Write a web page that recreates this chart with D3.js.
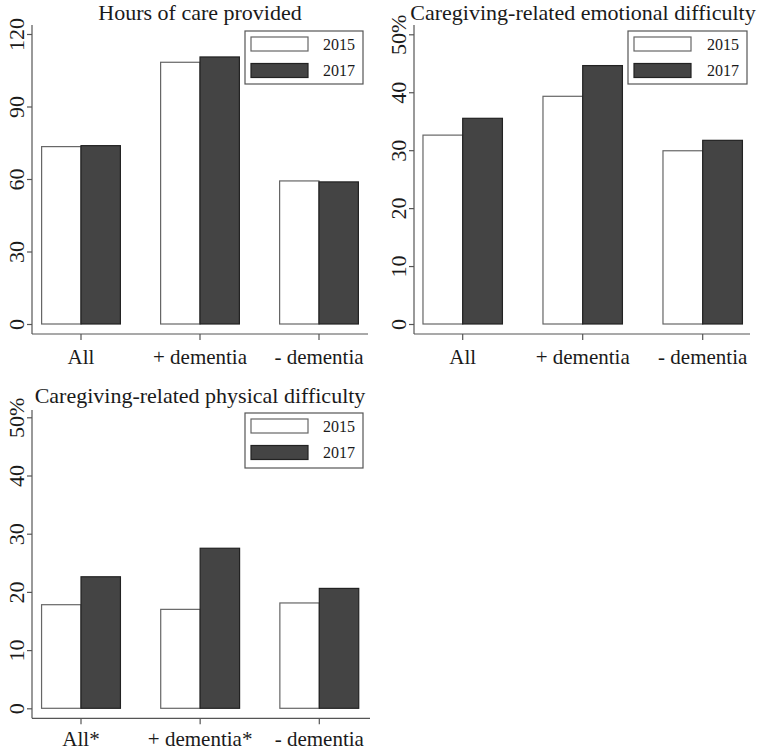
<!DOCTYPE html>
<html>
<head>
<meta charset="utf-8">
<script src="https://cdn.jsdelivr.net/npm/d3@7"></script>
<style>
  html, body { margin: 0; padding: 0; background: #fff; }
  svg text { font-family: "Liberation Serif", "DejaVu Serif", serif !important; fill: #1a1a1a; }
</style>
</head>
<body>
<svg id="chart" width="760" height="751" font-family="Liberation Serif"></svg>
<script>
// ---- data ----
const years = ["2015", "2017"];
const categoriesTop = ["All", "+ dementia", "- dementia"];
const categoriesPhys = ["All*", "+ dementia*", "- dementia"];

const hoursTitle = "Hours of care provided";
const hours2015 = [73.4, 108.3, 59.2];
const hours2017 = [73.8, 110.5, 58.8];
const hoursTicks = [0, 30, 60, 90, 120];
const hoursTickLabels = ["0", "30", "60", "90", "120"];

const emoTitle = "Caregiving-related emotional difficulty";
const emo2015 = [32.6, 39.3, 29.9];
const emo2017 = [35.5, 44.6, 31.7];
const pctTicks = [0, 10, 20, 30, 40, 50];
const pctTickLabels = ["0", "10", "20", "30", "40", "50%"];

const physTitle = "Caregiving-related physical difficulty";
const phys2015 = [17.8, 17.0, 18.1];
const phys2017 = [22.6, 27.5, 20.6];

// ---- layout (pixel frames) ----
const panels = [
  { title: hoursTitle, cats: categoriesTop, s1: hours2015, s2: hours2017, ticks: hoursTicks, labels: hoursTickLabels,
    axisX: 32, xEnd: 368, top: 25, xAxisY: 334, y0: 324, yMax: 34, c0: 81, c2: 319, titleX: 200, titleY: 19.8, xLabY: 364,
    leg: { x: 245, y: 31, w: 118, h: 53 } },
  { title: emoTitle, cats: categoriesTop, s1: emo2015, s2: emo2017, ticks: pctTicks, labels: pctTickLabels,
    axisX: 414, xEnd: 750, top: 25, xAxisY: 334, y0: 324, yMax: 34.3, c0: 462.7, c2: 702.7, titleX: 583, titleY: 19.8, xLabY: 364,
    leg: { x: 628, y: 31, w: 119, h: 53 } },
  { title: physTitle, cats: categoriesPhys, s1: phys2015, s2: phys2017, ticks: pctTicks, labels: pctTickLabels,
    axisX: 32, xEnd: 370, top: 410, xAxisY: 718.3, y0: 708.3, yMax: 417.3, c0: 81, c2: 319.3, titleX: 200, titleY: 402.5, xLabY: 746,
    leg: { x: 245, y: 413, w: 118, h: 55 } }
];

const FONT = '"Liberation Serif", "DejaVu Serif", serif';
const svg = d3.select("#chart");
const axisColor = "#555";
const darkFill = "#444";

panels.forEach(p => {
  const g = svg.append("g");
  const maxTick = p.ticks[p.ticks.length - 1];
  const y = d3.scaleLinear().domain([0, maxTick]).range([p.y0, p.yMax]);
  const step = (p.c2 - p.c0) / (p.cats.length - 1);
  const x = d3.scaleBand().domain(p.cats)
    .range([p.c0 - step / 2, p.c2 + step / 2])
    .paddingInner(0.338).paddingOuter(0.169);
  const xi = d3.scaleBand().domain(years).range([0, x.bandwidth()]);

  // title
  g.append("text")
    .attr("x", p.titleX)
    .attr("y", p.titleY)
    .attr("text-anchor", "middle")
    .style("font-family", FONT)
    .style("font-size", "22px")
    .text(p.title);

  // bars
  const rows = p.cats.map((c, i) => ({ cat: c, vals: [p.s1[i], p.s2[i]] }));
  const grp = g.selectAll("g.grp").data(rows).join("g")
    .attr("transform", d => `translate(${x(d.cat)},0)`);
  grp.selectAll("rect").data(d => d.vals.map((v, j) => ({ year: years[j], v })))
    .join("rect")
    .attr("x", d => xi(d.year))
    .attr("width", xi.bandwidth())
    .attr("y", d => y(d.v))
    .attr("height", d => y(0) - y(d.v))
    .attr("fill", d => d.year === "2015" ? "#fff" : darkFill)
    .attr("stroke", d => d.year === "2015" ? "#666" : "#222")
    .attr("stroke-width", 1.2);

  // y axis
  const yAxis = d3.axisLeft(y).tickValues(p.ticks)
    .tickFormat((d, i) => p.labels[i]).tickSize(5).tickSizeOuter(0);
  const ya = g.append("g").attr("transform", `translate(${p.axisX},0)`).call(yAxis)
    .attr("font-family", FONT);
  ya.select(".domain").remove();
  ya.selectAll(".tick line").attr("stroke", axisColor).attr("stroke-width", 1.2);
  ya.selectAll(".tick text")
    .attr("x", null).attr("dy", null)
    .attr("transform", "translate(-8,0) rotate(-90)")
    .attr("text-anchor", "middle")
    .style("font-family", FONT)
    .style("font-size", "22px")
    .attr("fill", "#1a1a1a");
  g.append("line")
    .attr("x1", p.axisX).attr("x2", p.axisX)
    .attr("y1", p.top).attr("y2", p.xAxisY)
    .attr("stroke", axisColor).attr("stroke-width", 1.2);

  // x axis
  const xAxis = d3.axisBottom(x).tickSize(6).tickSizeOuter(0).tickPadding(4);
  const xa = g.append("g").attr("transform", `translate(0,${p.xAxisY})`).call(xAxis)
    .attr("font-family", FONT);
  xa.select(".domain").remove();
  xa.selectAll(".tick line").attr("stroke", axisColor).attr("stroke-width", 1.2);
  xa.selectAll(".tick text")
    .attr("y", p.xLabY - p.xAxisY).attr("dy", null)
    .style("font-family", FONT)
    .style("font-size", "21px")
    .attr("fill", "#1a1a1a");
  g.append("line")
    .attr("x1", p.axisX).attr("x2", p.xEnd)
    .attr("y1", p.xAxisY).attr("y2", p.xAxisY)
    .attr("stroke", axisColor).attr("stroke-width", 1.2);

  // legend
  const L = p.leg;
  const lg = g.append("g").attr("transform", `translate(${L.x},${L.y})`);
  lg.append("rect").attr("width", L.w).attr("height", L.h)
    .attr("fill", "#fff").attr("stroke", axisColor).attr("stroke-width", 1.2);
  years.forEach((yr, j) => {
    const rowY = 6 + j * 26.5;
    lg.append("rect")
      .attr("x", 6).attr("y", rowY)
      .attr("width", 57).attr("height", 14)
      .attr("fill", yr === "2015" ? "#fff" : darkFill)
      .attr("stroke", yr === "2015" ? "#666" : "#222")
      .attr("stroke-width", 1.2);
    lg.append("text")
      .attr("x", L.w - 8).attr("y", rowY + 12.5)
      .attr("text-anchor", "end")
      .style("font-family", FONT)
      .style("font-size", "16px")
      .text(yr);
  });
});
</script>
</body>
</html>
